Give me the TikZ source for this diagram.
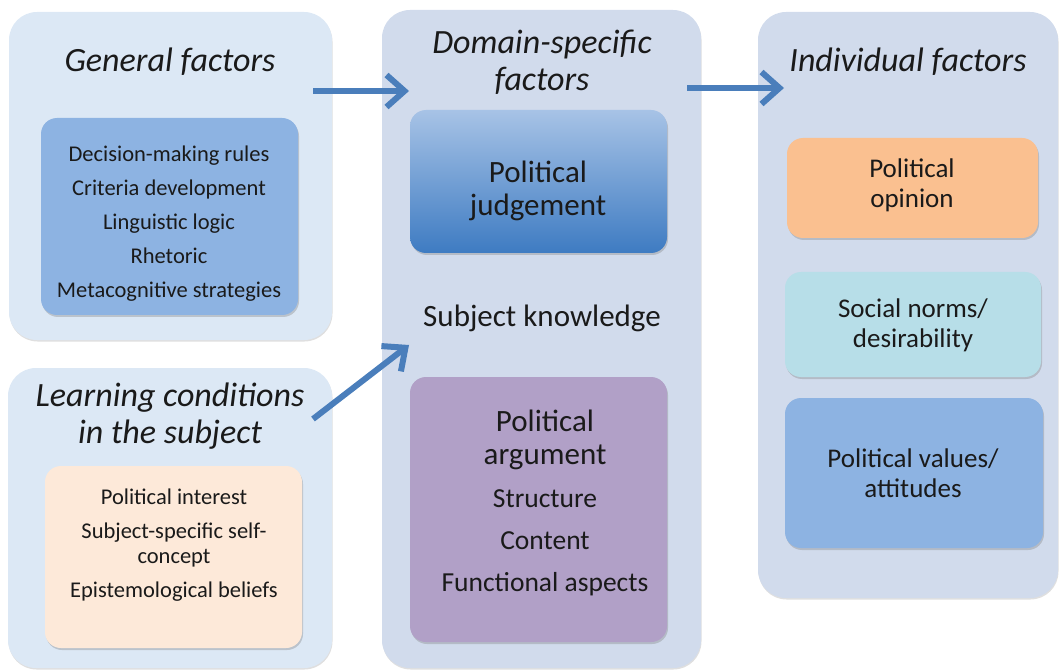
\documentclass[tikz,border=0pt]{standalone}
\usepackage{fontspec}
\setmainfont{Carlito}
\usetikzlibrary{arrows.meta,shadows}
\definecolor{leftpanel}{RGB}{220,232,245}
\definecolor{rightpanel}{RGB}{209,219,236}
\definecolor{steelcard}{RGB}{141,179,226}
\definecolor{peachcard}{RGB}{253,233,217}
\definecolor{lilaccard}{RGB}{177,160,199}
\definecolor{orangecard}{RGB}{250,192,144}
\definecolor{aquacard}{RGB}{183,222,232}
\definecolor{judgetop}{RGB}{167,195,230}
\definecolor{judgebottom}{RGB}{62,123,194}
\definecolor{arrowblue}{RGB}{74,126,187}
\definecolor{ink}{RGB}{26,26,26}
\begin{document}
\begin{tikzpicture}[x=1pt,y=-1pt,
    panel/.style = {rounded corners=28pt, inner sep=0pt,
        drop shadow={shadow xshift=0.5pt, shadow yshift=-1.5pt, opacity=0.25}},
    card/.style = {rounded corners=16pt, inner sep=0pt,
        drop shadow={shadow xshift=1pt, shadow yshift=-2pt, opacity=0.35}},
    heading/.style = {font=\fontsize{34}{37}\selectfont\itshape, align=center, text=ink},
    bigtext/.style = {font=\fontsize{31}{33}\selectfont, align=center, text=ink},
    midtext/.style = {font=\fontsize{27}{30}\selectfont, align=center, text=ink},
    smalltext/.style = {font=\fontsize{22.5}{34}\selectfont, align=center, text=ink},
    arrow/.style = {line width=6pt, draw=arrowblue,
        -{Straight Barb[length=18pt, width=32pt]}}]
    \useasboundingbox (0,0) rectangle (1061,671);

    % outer panels
    \node[panel, fill=leftpanel, minimum width=323, minimum height=328]
        (general) at (170.5,176) {};
    \node[panel, fill=leftpanel, minimum width=324, minimum height=300]
        (learning) at (170,518) {};
    \node[panel, fill=rightpanel, minimum width=319, minimum height=658]
        (domain) at (541.5,339) {};
    \node[panel, fill=rightpanel, minimum width=300, minimum height=586]
        (individual) at (908,305) {};

    % cards
    \node[card, fill=steelcard, minimum width=257, minimum height=197]
        (rules) at (169.5,216.5) {};
    \node[card, fill=peachcard, minimum width=257, minimum height=182]
        (conditions) at (173.5,557) {};
    \node[card, top color=judgetop, bottom color=judgebottom,
        minimum width=257, minimum height=143]
        (judgement) at (538.5,181.5) {};
    \node[card, fill=lilaccard, minimum width=257, minimum height=265]
        (argument) at (538.5,509.5) {};
    \node[card, fill=orangecard, minimum width=251, minimum height=100]
        (opinion) at (912.5,188) {};
    \node[card, fill=aquacard, minimum width=256, minimum height=105]
        (norms) at (913,324.5) {};
    \node[card, fill=steelcard, minimum width=258, minimum height=150]
        (values) at (914,473) {};

    % texts
    \node[heading] (general-title) at (170,62) {General factors};
    \node[smalltext] (rules-text) at (169,224)
        {Decision-making rules\\Criteria development\\Linguistic logic\\Rhetoric\\Metacognitive strategies};
    \node[heading] (learning-title) at (170,416) {Learning conditions\\in the subject};
    \node[smalltext, font=\fontsize{22.5}{25}\selectfont] (conditions-text) at (174,545)
        {Political interest\\[9pt]Subject-specific self-\\concept\\[9pt]Epistemological beliefs};
    \node[heading] (domain-title) at (542,62) {Domain-specific\\factors};
    \node[bigtext] (judgement-text) at (538,191) {Political\\judgement};
    \node[bigtext] (knowledge) at (542,318) {Subject knowledge};
    \node[bigtext] (argument-title) at (545,440) {Political\\argument};
    \node[midtext, font=\fontsize{27.5}{42}\selectfont] (argument-text) at (545,543)
        {Structure\\Content\\Functional aspects};
    \node[heading] (individual-title) at (908,62) {Individual factors};
    \node[midtext] (opinion-text) at (912,185.5) {Political\\opinion};
    \node[midtext] (norms-text) at (913,325) {Social norms/\\desirability};
    \node[midtext] (values-text) at (913,473) {Political values/\\attitudes};

    % arrows
    \coordinate (general-out) at (313,91);
    \coordinate (domain-in) at (409,91);
    \coordinate (domain-out) at (687,88);
    \coordinate (individual-in) at (784,88);
    \coordinate (learning-out) at (313,419);
    \coordinate (domain-low) at (409,345);
    \draw[arrow] (general-out) -- (domain-in);
    \draw[arrow] (domain-out) -- (individual-in);
    \draw[arrow] (learning-out) -- (domain-low);
\end{tikzpicture}
\end{document}
